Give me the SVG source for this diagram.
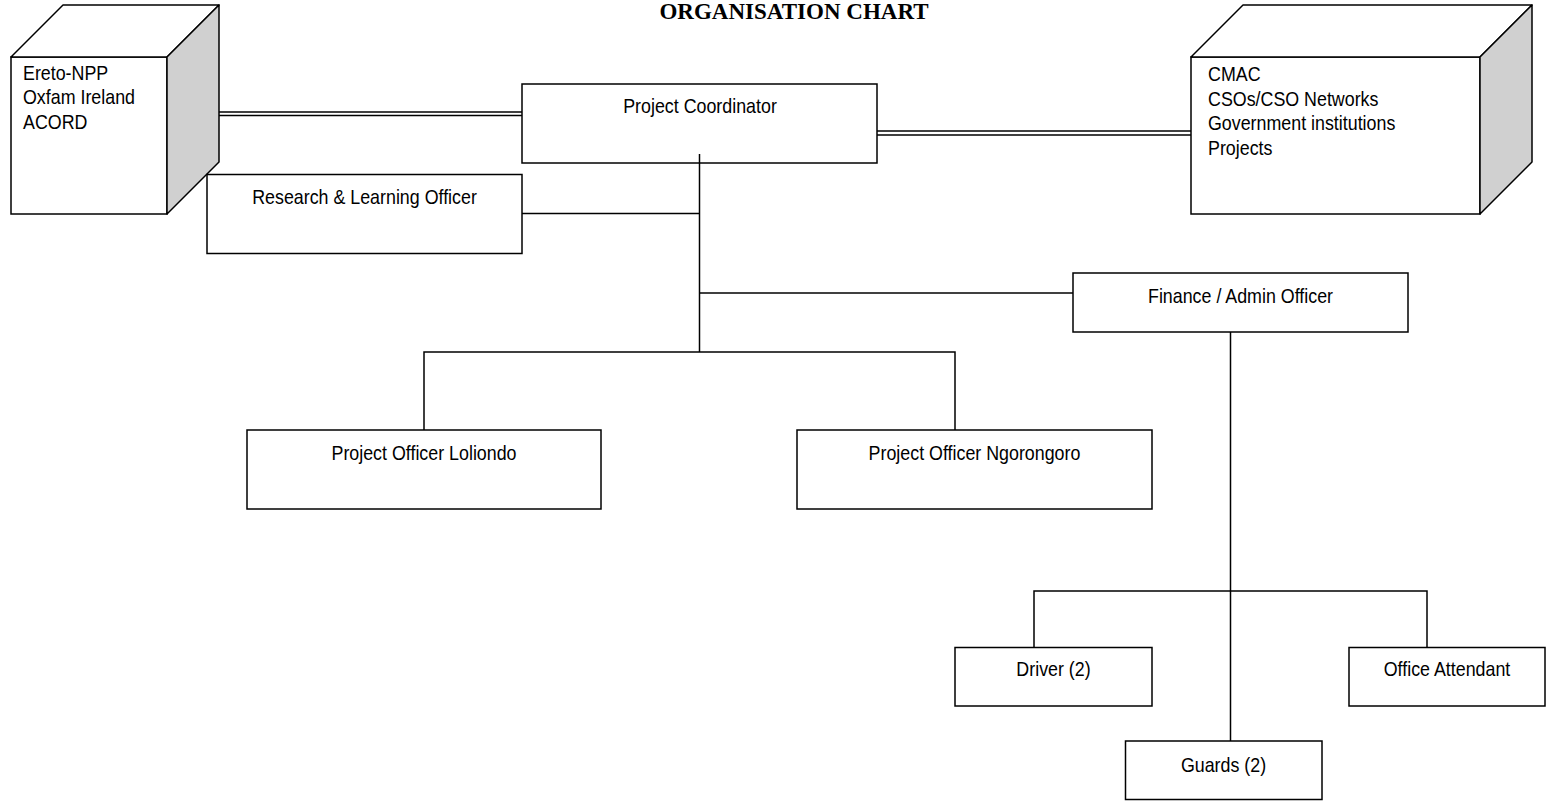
<svg xmlns="http://www.w3.org/2000/svg" width="1551" height="807" viewBox="0 0 1551 807">
<style>
.bx{fill:#fff;stroke:#000;stroke-width:1.5}
.side{fill:#d0d0d0;stroke:#000;stroke-width:1.5;stroke-linejoin:round}
.top{fill:#fff;stroke:#000;stroke-width:1.5;stroke-linejoin:round}
.ln{stroke:#000;stroke-width:1.5;fill:none}
.t{font-family:"Liberation Sans",Arial,sans-serif;font-size:21px;fill:#000}
.c{text-anchor:middle}
.title{font-family:"Liberation Serif","Times New Roman",serif;font-size:23px;font-weight:bold;text-anchor:middle;fill:#000}
</style>
<rect width="1551" height="807" fill="#fff"/>
<text class="title" x="794" y="19">ORGANISATION CHART</text>

<g id="connectors">
  <line class="ln" x1="219" y1="112" x2="522" y2="112"/>
  <line class="ln" x1="219" y1="115.5" x2="522" y2="115.5"/>
  <line class="ln" x1="877" y1="131" x2="1191" y2="131"/>
  <line class="ln" x1="877" y1="135" x2="1191" y2="135"/>
  <line class="ln" x1="699.5" y1="154" x2="699.5" y2="352"/>
  <line class="ln" x1="522" y1="213.5" x2="699.5" y2="213.5"/>
  <line class="ln" x1="699.5" y1="293" x2="1073" y2="293"/>
  <polyline class="ln" points="424,430 424,352 955,352 955,430"/>
  <line class="ln" x1="1230.5" y1="332" x2="1230.5" y2="741"/>
  <polyline class="ln" points="1034,647 1034,591 1427,591 1427,647"/>
</g>

<g id="partners-left">
  <rect class="bx" x="11" y="57" width="156" height="157"/>
  <polygon class="top" points="11,57 63,5 219,5 167,57"/>
  <polygon class="side" points="167,57 219,5 219,162 167,214"/>
  <text class="t" transform="translate(23,79.5) scale(0.85,1)">Ereto-NPP</text>
  <text class="t" transform="translate(23,104) scale(0.85,1)">Oxfam Ireland</text>
  <text class="t" transform="translate(23,128.5) scale(0.85,1)">ACORD</text>
</g>

<g id="partners-right">
  <rect class="bx" x="1191" y="57" width="289" height="157"/>
  <polygon class="top" points="1191,57 1243,5 1532,5 1480,57"/>
  <polygon class="side" points="1480,57 1532,5 1532,162 1480,214"/>
  <text class="t" transform="translate(1208,81) scale(0.85,1)">CMAC</text>
  <text class="t" transform="translate(1208,105.5) scale(0.85,1)">CSOs/CSO Networks</text>
  <text class="t" transform="translate(1208,130) scale(0.85,1)">Government institutions</text>
  <text class="t" transform="translate(1208,154.5) scale(0.85,1)">Projects</text>
</g>

<g id="project-coordinator">
  <rect class="bx" x="522" y="84" width="355" height="79"/>
  <line class="ln" x1="699.5" y1="154" x2="699.5" y2="163"/>
  <text class="t c" transform="translate(700,113) scale(0.85,1)">Project Coordinator</text>
</g>

<g id="research-officer">
  <rect class="bx" x="207" y="174.5" width="315" height="79"/>
  <text class="t c" transform="translate(364.5,203.5) scale(0.85,1)">Research &amp; Learning Officer</text>
</g>

<g id="finance-officer">
  <rect class="bx" x="1073" y="273" width="335" height="59"/>
  <text class="t c" transform="translate(1240.5,302.5) scale(0.85,1)">Finance / Admin Officer</text>
</g>

<g id="po-loliondo">
  <rect class="bx" x="247" y="430" width="354" height="79"/>
  <text class="t c" transform="translate(424,459.5) scale(0.85,1)">Project Officer Loliondo</text>
</g>

<g id="po-ngorongoro">
  <rect class="bx" x="797" y="430" width="355" height="79"/>
  <text class="t c" transform="translate(974.5,459.5) scale(0.85,1)">Project Officer Ngorongoro</text>
</g>

<g id="driver">
  <rect class="bx" x="955" y="647.5" width="197" height="58.5"/>
  <text class="t c" transform="translate(1053.5,675.5) scale(0.85,1)">Driver (2)</text>
</g>

<g id="office-attendant">
  <rect class="bx" x="1349" y="647.5" width="196" height="58.5"/>
  <text class="t c" transform="translate(1447,675.5) scale(0.85,1)">Office Attendant</text>
</g>

<g id="guards">
  <rect class="bx" x="1125.5" y="741" width="196.5" height="58.5"/>
  <text class="t c" transform="translate(1223.5,771.5) scale(0.85,1)">Guards (2)</text>
</g>
</svg>
